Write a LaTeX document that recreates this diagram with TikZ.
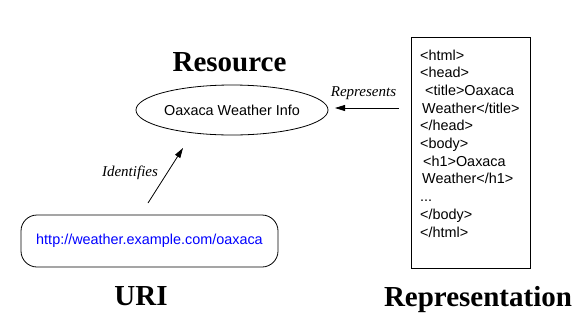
\documentclass[tikz,border=0pt]{standalone}
\usepackage{fontspec}
\setmainfont{Liberation Serif}
\setsansfont{Liberation Sans}
\usetikzlibrary{arrows.meta,shapes.geometric}
\begin{document}
\begin{tikzpicture}[x=1pt,y=-1pt,
  title/.style={font=\fontsize{29}{31}\selectfont\bfseries, anchor=base, inner sep=0pt},
  lbl/.style={font=\fontsize{15}{17}\selectfont\itshape, anchor=base, inner sep=0pt},
  sans/.style={font=\sffamily\fontsize{14.4}{17.7}\selectfont},
  arr/.style={line width=0.8pt, -{Triangle[length=10pt,width=6pt]}},
  box/.style={draw, line width=0.8pt}]
\useasboundingbox (0,0) rectangle (588,335);
% Resource
\node[title] (restitle) at (229.5,71.5) {Resource};
\node[box, ellipse, sans, minimum width=182pt, minimum height=50pt, inner sep=0pt] (res) at (232,110) {Oaxaca Weather Info};
% URI
\node[box, rounded corners=16pt, sans, minimum width=257pt, minimum height=52pt, inner sep=0pt, text=blue] (uri) at (149.5,241) {http://weather.example.com/oaxaca};
\node[title] (urititle) at (141,305) {URI};
% Representation box
\node[box, minimum width=119pt, minimum height=231pt, inner sep=0pt] (rep) at (470.5,152.5) {};
\node[sans, anchor=base west, inner sep=0pt] (html) at (420,60) {%
  \renewcommand\arraystretch{1}%
  \begin{tabular}[t]{@{}l@{}}
  <html>\\
  <head>\\
  \hspace{5pt}<title>Oaxaca\\
  \hspace{2pt}Weather</title>\\
  </head>\\
  <body>\\
  \hspace{3pt}<h1>Oaxaca\\
  \hspace{2pt}Weather</h1>\\
  ...\\
  </body>\\
  </html>
  \end{tabular}};
\node[title] (reptitle) at (478,306) {Representation};
% arrows
\coordinate (idtail) at (148,203);
\coordinate (idhead) at (183,148);
\draw[arr] (idtail) -- (idhead);
\node[lbl] (idlbl) at (130,176) {Identifies};
\coordinate (reptail) at (399,108);
\coordinate (rephead) at (335,108);
\draw[arr] (reptail) -- (rephead);
\node[lbl] (replbl) at (363.5,96) {Represents};
\end{tikzpicture}
\end{document}
